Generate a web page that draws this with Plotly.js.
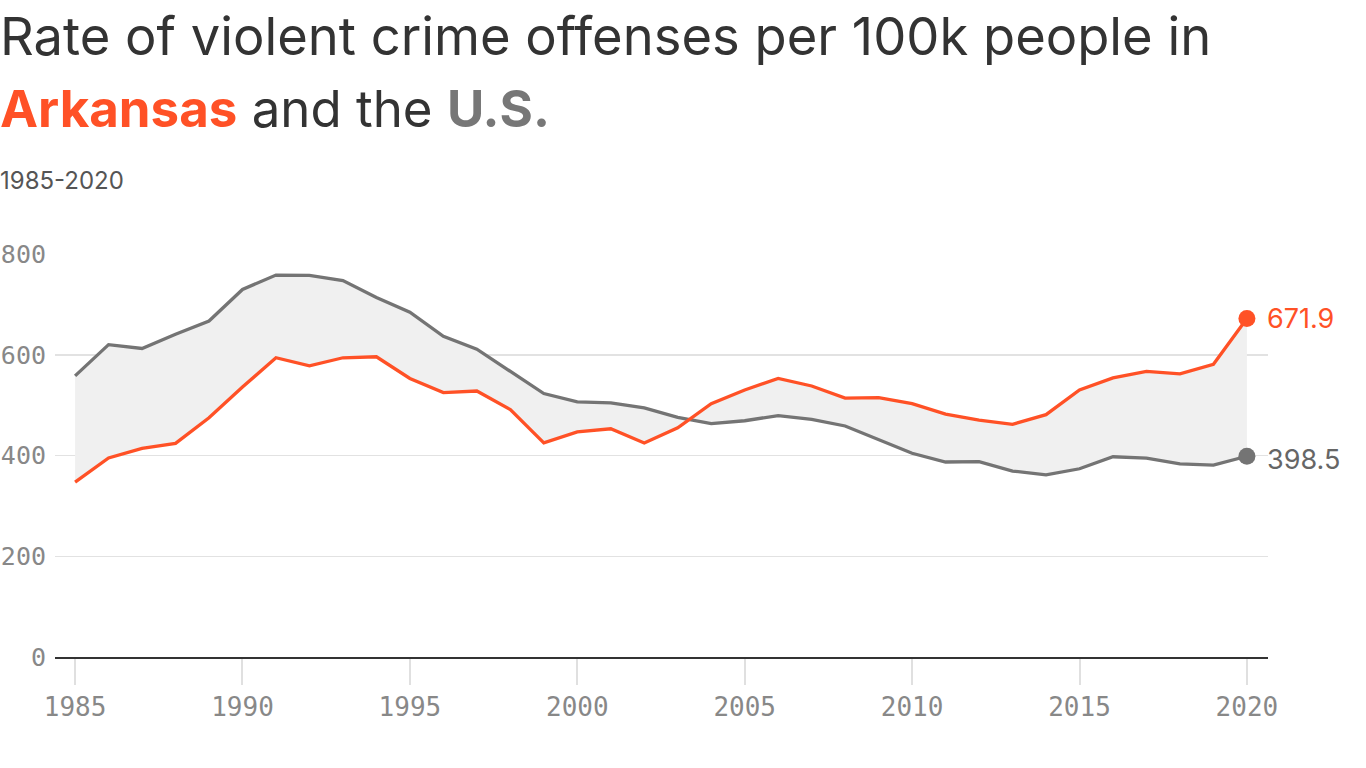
<!DOCTYPE html>
<html>
<head>
<meta charset="utf-8">
<script src="https://cdn.plot.ly/plotly-3.0.1.min.js"></script>
<style>
  html, body { margin: 0; padding: 0; background: #fff; }
  #chart { width: 1366px; height: 768px; }
</style>
</head>
<body>
<div id="chart"></div>
<script>
const years = [1985,1986,1987,1988,1989,1990,1991,1992,1993,1994,1995,1996,1997,1998,1999,2000,2001,2002,2003,2004,2005,2006,2007,2008,2009,2010,2011,2012,2013,2014,2015,2016,2017,2018,2019,2020];
const usRate = [558.1,620.1,612.5,640.6,666.9,729.6,758.2,757.7,747.1,713.6,684.5,636.6,611.0,567.6,523.0,506.5,504.5,494.4,475.8,463.2,469.0,479.3,471.8,458.6,431.9,404.5,387.1,387.8,369.1,361.6,373.7,397.5,394.9,383.4,380.8,398.5];
const arkansasRate = [347,395,414,424,475,536,594,578,594,596,553,525,528,491,425,447,453,425,455,503,530,553,538,514,515,503,482,470,462,481,530,554,567,562,581,671.9];
const yTicks = [0,200,400,600,800];
const xTicks = [1985,1990,1995,2000,2005,2010,2015,2020];

const ORANGE = '#ff5126';
const GRAY = '#747474';
const lastIdx = years.length - 1;

const traces = [
  {
    x: years, y: usRate, type: 'scatter', mode: 'lines',
    line: {color: GRAY, width: 3.3}, hoverinfo: 'skip', showlegend: false
  },
  {
    x: years, y: arkansasRate, type: 'scatter', mode: 'lines',
    line: {color: ORANGE, width: 3.3}, fill: 'tonexty', fillcolor: '#f0f0f0',
    hoverinfo: 'skip', showlegend: false
  },
  {
    x: [years[lastIdx]], y: [usRate[lastIdx]], type: 'scatter', mode: 'markers',
    marker: {color: GRAY, size: 17}, cliponaxis: false, showlegend: false, hoverinfo: 'skip'
  },
  {
    x: [years[lastIdx]], y: [arkansasRate[lastIdx]], type: 'scatter', mode: 'markers',
    marker: {color: ORANGE, size: 17}, cliponaxis: false, showlegend: false, hoverinfo: 'skip'
  }
];

// plot area pixel geometry
const L = 55, R = 98, T = 254, B = 111;
const PW = 1366 - L - R, PH = 768 - T - B;
const px = p => (p - L) / PW;          // pixel x -> paper
const py = p => (768 - B - p) / PH;    // pixel y -> paper

const TITLE_FONT = 'Inter, "Noto Sans", sans-serif';
const MONO = '"DejaVu Sans Mono", "Liberation Mono", monospace';

const layout = {
  width: 1366, height: 768,
  margin: {l: L, r: R, t: T, b: B, pad: 0},
  paper_bgcolor: '#fff', plot_bgcolor: '#fff',
  xaxis: {
    range: [1984.4, 2020.63],
    tickvals: xTicks, ticktext: xTicks.map(String),
    showgrid: false, zeroline: false,
    showline: true, linecolor: '#333', linewidth: 2,
    ticks: 'outside', ticklen: 26, tickcolor: '#e0e0e0', tickwidth: 2,
    tickfont: {family: MONO, size: 26, color: '#888'},
    fixedrange: true
  },
  yaxis: {
    range: [0, 800],
    tickvals: yTicks, ticktext: yTicks.map(String),
    showgrid: true, gridcolor: '#e2e2e2', gridwidth: 1.5,
    zeroline: false, showline: false, ticks: '',
    tickfont: {family: MONO, size: 25, color: '#888'},
    ticklabelstandoff: 8,
    fixedrange: true
  },
  annotations: [
    {
      xref: 'paper', yref: 'paper', x: px(-2), y: py(70), xanchor: 'left', yanchor: 'bottom',
      text: 'Rate of violent crime offenses per 100k people in', showarrow: false,
      font: {family: TITLE_FONT, size: 52.5, color: '#333'}
    },
    {
      xref: 'paper', yref: 'paper', x: px(-2), y: py(141), xanchor: 'left', yanchor: 'bottom',
      text: '<b><span style="color:' + ORANGE + '">Arkansas</span></b> and the <b><span style="color:#777">U.S.</span></b>',
      showarrow: false,
      font: {family: TITLE_FONT, size: 51, color: '#333'}
    },
    {
      xref: 'paper', yref: 'paper', x: px(-2), y: py(197), xanchor: 'left', yanchor: 'bottom',
      text: '1985-2020', showarrow: false,
      font: {family: TITLE_FONT, size: 24, color: '#555'}
    },
    {
      x: years[lastIdx], y: arkansasRate[lastIdx], xref: 'x', yref: 'y',
      text: String(arkansasRate[lastIdx]), showarrow: false, xanchor: 'left', xshift: 18,
      font: {family: TITLE_FONT, size: 27, color: ORANGE}
    },
    {
      x: years[lastIdx], y: usRate[lastIdx], xref: 'x', yref: 'y',
      text: String(usRate[lastIdx]), showarrow: false, xanchor: 'left', xshift: 18, yshift: -3,
      font: {family: TITLE_FONT, size: 27, color: '#666'}
    }
  ]
};

Plotly.newPlot('chart', traces, layout, {displayModeBar: false, staticPlot: true});
</script>
</body>
</html>
